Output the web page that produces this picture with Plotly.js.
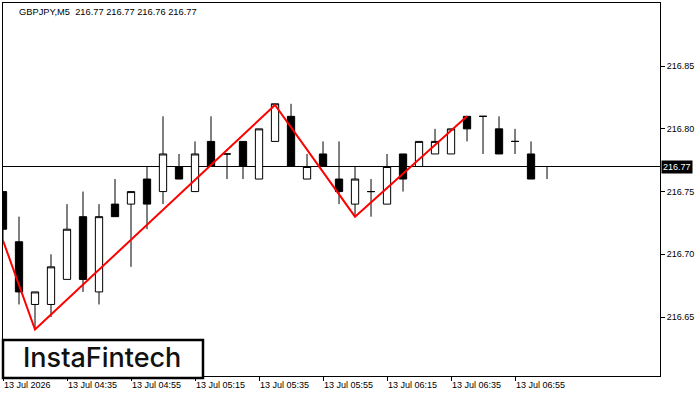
<!DOCTYPE html>
<html>
<head>
<meta charset="utf-8">
<script src="https://cdn.plot.ly/plotly-3.0.1.min.js"></script>
<style>html,body{margin:0;padding:0;background:#fff;}#chart{width:700px;height:400px;}</style>
</head>
<body>
<div id="chart"></div>
<script>
// candle index (5-minute bars from 04:15)
const idx = [0,1,2,3,4,5,6,7,8,9,10,11,12,13,14,15,16,17,18,19,20,21,22,23,24,25,26,27,28,29,30,31,32,33,34];
const opens  = [216.75,216.71,216.66,216.66,216.68,216.73,216.67,216.74,216.74,216.76,216.75,216.77,216.75,216.79,216.78,216.79,216.76,216.79,216.81,216.76,216.78,216.76,216.74,216.75,216.74,216.78,216.77,216.78,216.78,216.81,216.81,216.80,216.79,216.78,216.77];
const highs  = [216.75,216.73,216.67,216.70,216.74,216.75,216.74,216.76,216.75,216.77,216.81,216.78,216.79,216.81,216.78,216.79,216.80,216.82,216.82,216.78,216.79,216.79,216.77,216.76,216.78,216.78,216.79,216.80,216.80,216.81,216.81,216.81,216.80,216.79,216.77];
const lows   = [216.71,216.66,216.64,216.65,216.68,216.67,216.66,216.73,216.69,216.72,216.74,216.76,216.75,216.77,216.76,216.76,216.76,216.79,216.77,216.76,216.77,216.74,216.73,216.73,216.74,216.75,216.77,216.78,216.78,216.79,216.78,216.78,216.78,216.76,216.76];
const closes = [216.72,216.67,216.67,216.69,216.72,216.68,216.73,216.73,216.75,216.74,216.78,216.76,216.78,216.77,216.78,216.77,216.80,216.82,216.77,216.77,216.77,216.75,216.76,216.75,216.77,216.76,216.79,216.79,216.80,216.80,216.81,216.78,216.79,216.76,216.77];

// pattern line (double top) vertices
const patternX = [0, 2, 17, 22, 29];
const patternY = [216.711, 216.640, 216.819, 216.730, 216.810];

const tickPos = [0, 4, 8, 12, 16, 20, 24, 28, 32];
const tickText = ['13 Jul 2026','13 Jul 04:35','13 Jul 04:55','13 Jul 05:15','13 Jul 05:35','13 Jul 05:55','13 Jul 06:15','13 Jul 06:35','13 Jul 06:55'];
const priceTicks = [216.65, 216.70, 216.75, 216.80, 216.85];
const priceText = ['216.65','216.70','216.75','216.80','216.85'];
const lastPrice = 216.77;
const headerText = 'GBPJPY,M5  216.77 216.77 216.76 216.77';
const logoText = 'InstaFintech';

const FONT = 'Liberation Sans, Arial, sans-serif';

const traces = [
  {
    type: 'candlestick',
    x: idx, open: opens, high: highs, low: lows, close: closes,
    increasing: {line: {color: '#000', width: 1}, fillcolor: '#fff'},
    decreasing: {line: {color: '#000', width: 1}, fillcolor: '#000'},
    whiskerwidth: 0,
    hoverinfo: 'skip',
    showlegend: false
  },
  {
    type: 'scatter', mode: 'lines',
    x: patternX, y: patternY,
    line: {color: '#ff0000', width: 2},
    hoverinfo: 'skip', showlegend: false
  }
];

const layout = {
  width: 700, height: 400,
  margin: {l: 3, r: 40, t: 3, b: 24},
  paper_bgcolor: '#fff', plot_bgcolor: '#fff',
  showlegend: false,
  boxgap: 0.35,
  font: {family: FONT, size: 9, color: '#000'},
  xaxis: {
    range: [0, 41.06],
    rangeslider: {visible: false},
    tickmode: 'array', tickvals: tickPos, ticktext: tickText,
    ticks: 'outside', ticklen: 4, tickcolor: '#000', tickwidth: 1,
    ticklabelposition: 'outside right',
    showgrid: false, zeroline: false,
    showline: true, mirror: true, linecolor: '#000', linewidth: 1,
    tickfont: {family: FONT, size: 9, color: '#000'},
    fixedrange: true
  },
  yaxis: {
    side: 'right',
    range: [216.60296, 216.90036],
    tickmode: 'array', tickvals: priceTicks, ticktext: priceText,
    ticks: 'outside', ticklen: 4, tickcolor: '#000', tickwidth: 1,
    showgrid: false, zeroline: false,
    showline: true, mirror: true, linecolor: '#000', linewidth: 1,
    tickfont: {family: FONT, size: 9, color: '#000'},
    fixedrange: true
  },
  shapes: [
    {type: 'line', xref: 'paper', x0: 0, x1: 1, yref: 'y', y0: lastPrice, y1: lastPrice,
     line: {color: '#000', width: 1}, layer: 'below'},
    {type: 'rect', xref: 'paper', yref: 'paper', x0: 0.0, x1: 0.3044, y0: -0.0054, y1: 0.0965,
     line: {color: '#000', width: 2.5}, fillcolor: '#fff', layer: 'above'}
  ],
  annotations: [
    {text: headerText, xref: 'paper', yref: 'paper', x: 0.021, y: 0.995, xanchor: 'left', yanchor: 'top',
     showarrow: false, font: {family: FONT, size: 9.3, color: '#000'}},
    {text: String(lastPrice.toFixed(2)), xref: 'paper', yref: 'y', x: 1, y: lastPrice, xanchor: 'left', yanchor: 'middle',
     xshift: 1, showarrow: false, bgcolor: '#000', borderpad: 1,
     font: {family: FONT, size: 9, color: '#fff'}},
    {text: logoText, xref: 'paper', yref: 'paper', x: 0.1507, y: 0.0483, xanchor: 'center', yanchor: 'middle',
     showarrow: false, font: {family: 'Inter, Noto Sans, sans-serif', size: 27, color: '#111', weight: 500}}
  ]
};

Plotly.newPlot('chart', traces, layout, {staticPlot: true, displayModeBar: false});
</script>
</body>
</html>
